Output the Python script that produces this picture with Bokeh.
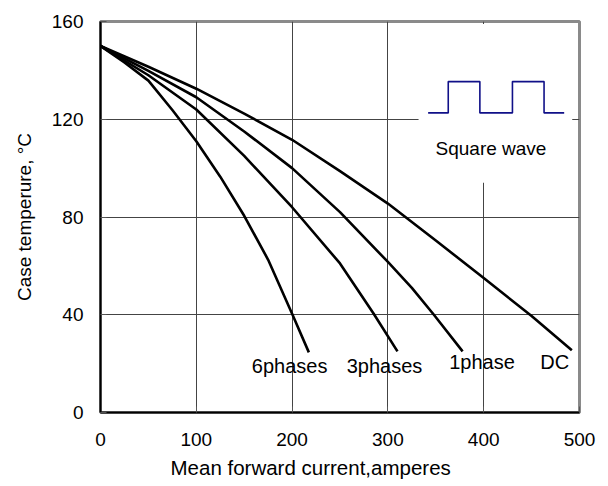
from bokeh.plotting import figure
from bokeh.models import Range1d, FixedTicker, Title, ColumnDataSource
from bokeh.embed import file_html
from bokeh.resources import INLINE
from bokeh.core.properties import value

FONT = "Liberation Sans"

# Curves: mean forward current (A) vs case temperature (°C)
dc_x = [0, 50, 100, 150, 200, 250, 300, 350, 400, 450, 492]
dc_y = [150, 141.5, 132.5, 122.3, 111.6, 98.8, 85.5, 70.4, 55, 39.5, 25.5]

ph1_x = [0, 50, 100, 150, 200, 250, 300, 325, 348, 378]
ph1_y = [150, 139.8, 129, 115, 100, 82, 61.6, 51, 40, 25]

ph3_x = [0, 50, 100, 150, 200, 250, 285, 310]
ph3_y = [150, 138, 124, 105, 84, 61, 40.5, 25]

ph6_x = [0, 25, 50, 75, 100, 125, 150, 175, 200, 217.5]
ph6_y = [150, 143.2, 135.8, 123.8, 111, 96.5, 80.5, 62.5, 40.4, 24.6]

curve_names = ["6phases", "3phases", "1phase", "DC"]
name_x = [158, 257, 364, 459]
name_y = [19.2, 19.2, 20.8, 20.8]

x_ticks = [0, 100, 200, 300, 400, 500]
y_ticks = [0, 40, 80, 120, 160]

# square-wave inset icon
sq_t = [342, 363, 363, 396, 396, 430, 430, 463, 463, 484]
sq_v = [122.6, 122.6, 135.4, 135.4, 122.6, 122.6, 135.4, 135.4, 122.6, 122.6]
inset_box = dict(left=332, right=492.4, bottom=94, top=159)

p = figure(width=608, height=486, output_backend="svg", toolbar_location=None,
           x_range=Range1d(0, 500), y_range=Range1d(0, 160),
           min_border_left=100, min_border_right=29, min_border_top=21,
           min_border_bottom=74)
p.background_fill_color = "white"
p.border_fill_color = "white"
p.outline_line_color = "#8a8a8a"
p.outline_line_width = 3

p.xaxis.ticker = FixedTicker(ticks=x_ticks)
p.yaxis.ticker = FixedTicker(ticks=y_ticks)
p.xgrid.ticker = FixedTicker(ticks=x_ticks)
p.ygrid.ticker = FixedTicker(ticks=y_ticks)
for g in (p.xgrid, p.ygrid):
    g.grid_line_color = "#444444"
    g.grid_line_width = 1

for ax in (p.xaxis, p.yaxis):
    ax.axis_line_color = "black"
    ax.axis_line_width = 2
    ax.major_tick_in = 6
    ax.major_tick_out = 0
    ax.major_tick_line_color = "#555555"
    ax.minor_tick_line_color = None
    ax.major_label_text_font = FONT
    ax.major_label_text_font_size = "19px"
    ax.major_label_text_color = "black"
    ax.axis_label_text_font = FONT
    ax.axis_label_text_font_size = "19px"
    ax.axis_label_text_font_style = "normal"
    ax.axis_label_text_color = "black"

p.xaxis.major_label_standoff = 20
p.yaxis.major_label_standoff = 17
p.yaxis.axis_label = "Case temperure, °C"
p.yaxis.axis_label_standoff = 14

xlab = Title(text="Mean forward current,amperes", align="left", offset=70,
             text_font=FONT, text_font_size="20.5px", text_font_style="normal",
             text_color="black", standoff=10)
p.add_layout(xlab, "below")

p.quad(fill_color="white", line_color=None, **inset_box)

for xs, ys in ((dc_x, dc_y), (ph1_x, ph1_y), (ph3_x, ph3_y), (ph6_x, ph6_y)):
    p.line(xs, ys, line_color="black", line_width=2.6, line_join="round")

p.line(sq_t, sq_v, line_color="#101088", line_width=1.6)

src = ColumnDataSource(dict(x=name_x, y=name_y, t=curve_names))
p.text(x="x", y="y", text="t", source=src, text_font=value(FONT),
       text_font_size="20px", text_baseline="middle", text_align="left",
       text_color="black")

p.text(x=[349.7], y=[108], text=["Square wave"], text_font=value(FONT),
       text_font_size="19px", text_baseline="middle", text_align="left",
       text_color="black")

open("out.html", "w").write(file_html(p, INLINE))
